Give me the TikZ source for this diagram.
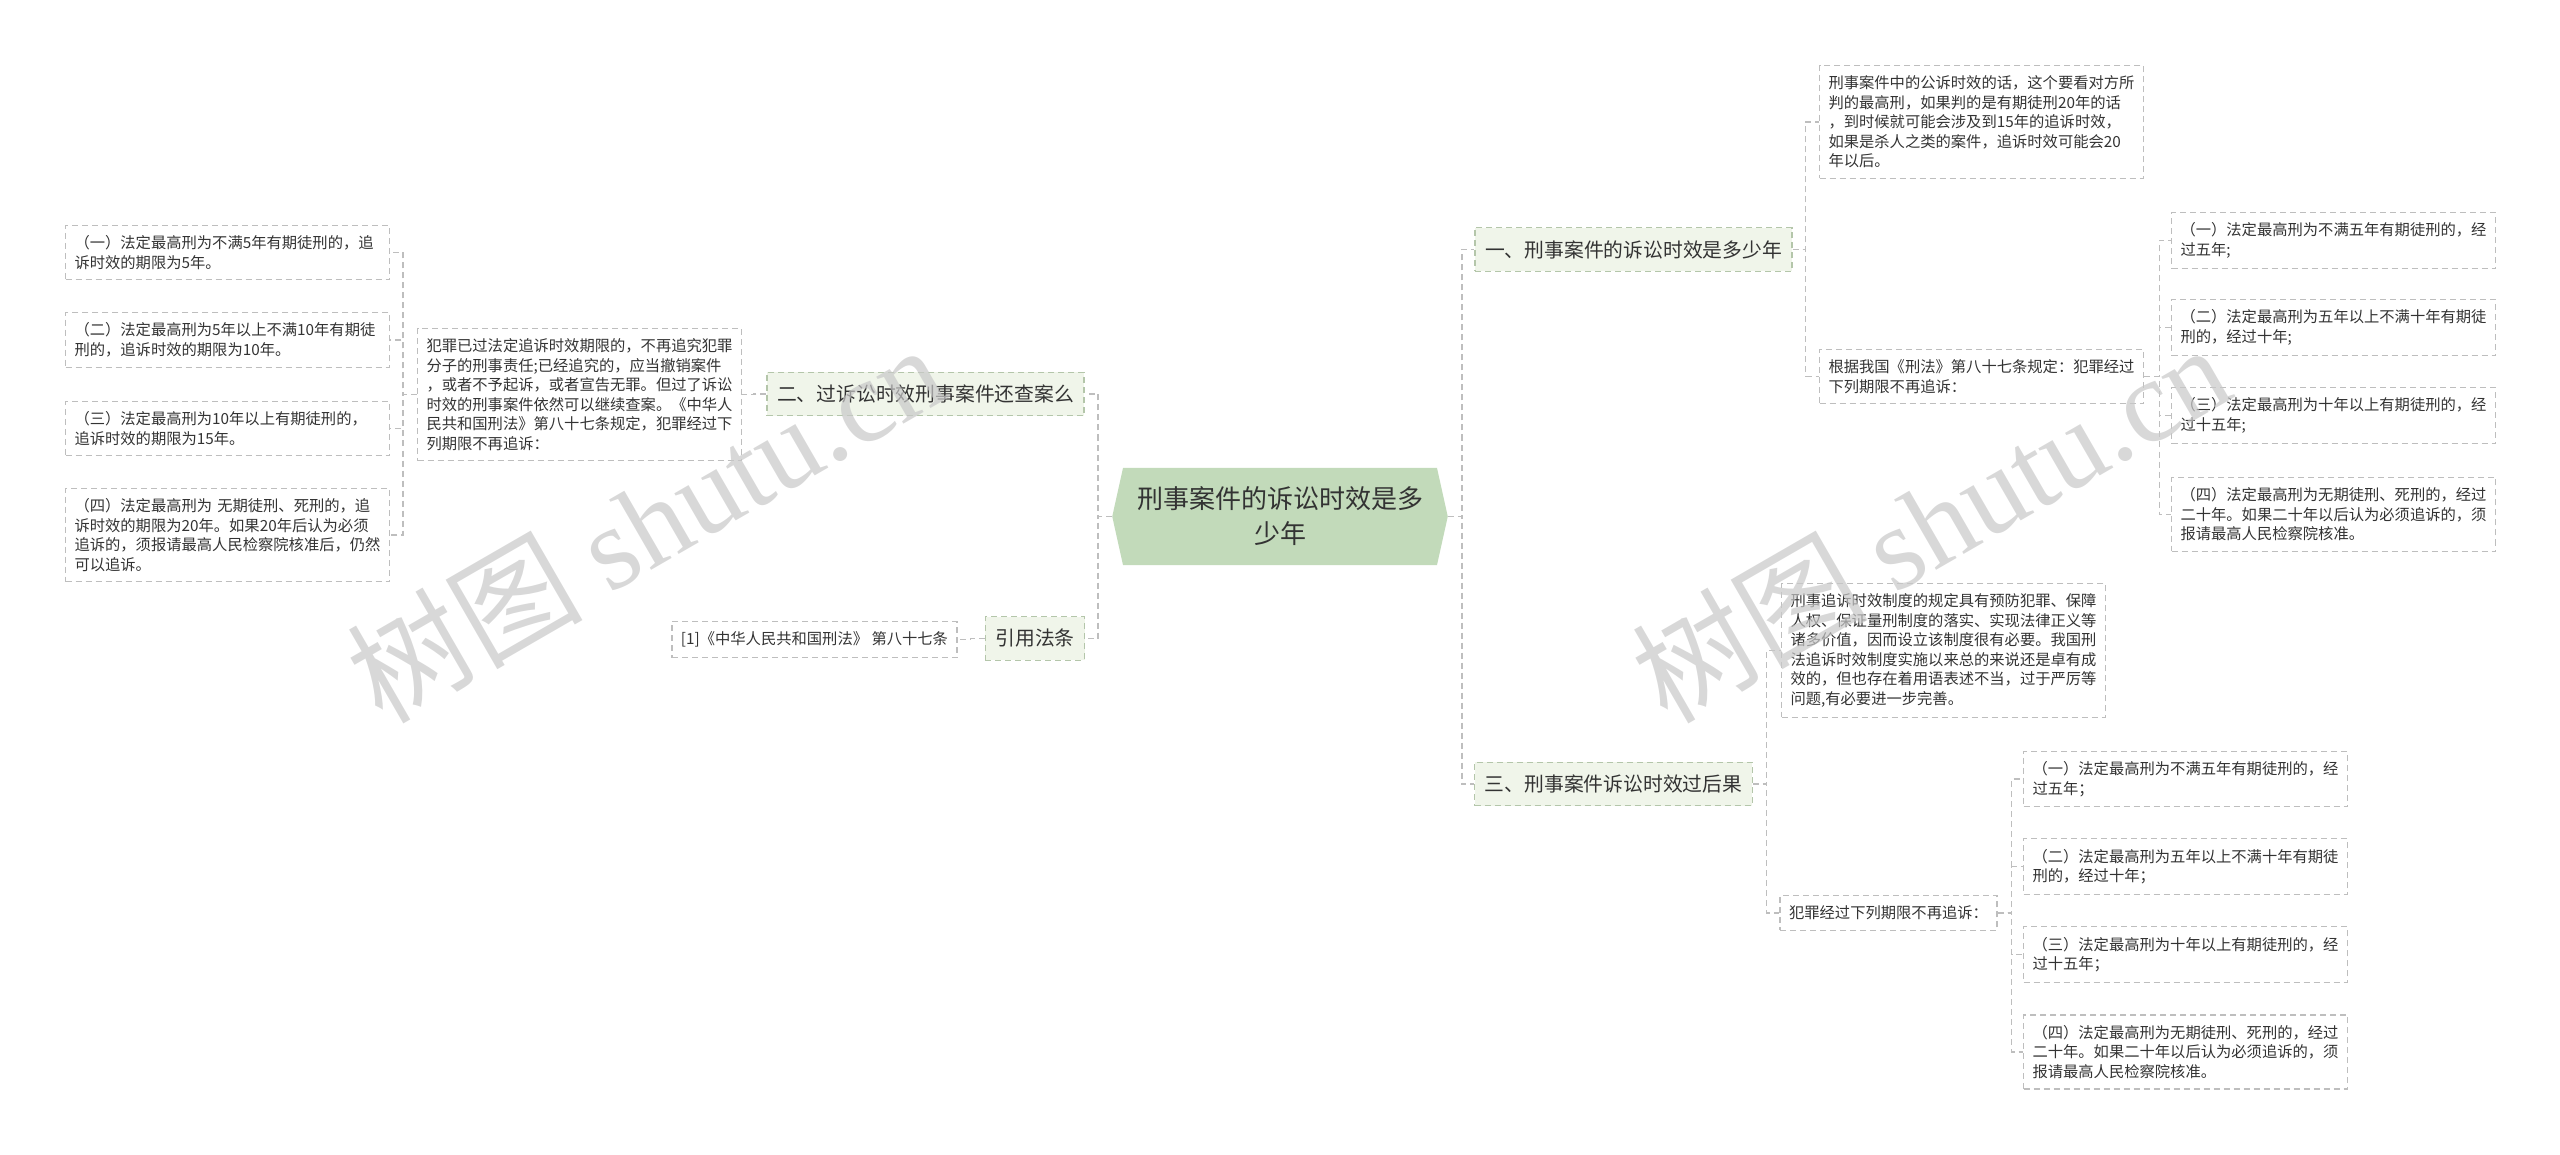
\documentclass[tikz,border=0pt]{standalone}
\usepackage{fontspec}
\setmainfont{Noto Sans CJK SC}
\newfontfamily\wmfont{Liberation Serif}
\usetikzlibrary{shapes.symbols}
\definecolor{textgray}{RGB}{51,51,51}
\definecolor{linegray}{RGB}{190,190,190}
\definecolor{rootgreen}{RGB}{194,218,186}
\definecolor{topicgreen}{RGB}{240,245,234}
\definecolor{topicline}{RGB}{180,198,170}
\definecolor{markgray}{RGB}{200,200,200}

\begin{document}
\begin{tikzpicture}[x=1pt,y=-1pt,
    root/.style={shape=signal,signal to=east and west,signal pointer angle=155,fill=rootgreen,text=textgray,align=center,font=\fontsize{26pt}{35pt}\selectfont,inner xsep=14pt,inner ysep=19pt},
    topic/.style={rectangle,draw=topicline,line width=1.2pt,dash pattern=on 6pt off 4pt,fill=topicgreen,text=textgray,font=\fontsize{19.8pt}{24pt}\selectfont,inner xsep=10pt,inner ysep=12.5pt},
    tag/.style={rectangle,draw=linegray,line width=1.2pt,dash pattern=on 6pt off 4pt,text=textgray,align=left,font=\fontsize{15.3pt}{19.5pt}\selectfont,inner xsep=9pt,inner ysep=10.3pt},
    leaf/.style={tag,text width=306pt},
    link/.style={draw=linegray,line width=1.2pt,dash pattern=on 6pt off 4pt},
    watermark/.style={text=markgray,text opacity=0.7,rotate=30,font=\fontsize{118pt}{120pt}\selectfont}]

    \useasboundingbox (0,0) rectangle (2560,1155);

    \node[root] at (1280,516.5) (root) {刑事案件的诉讼时效是多\\少年};

    % left side
    \node[topic] at (925.5,394) (two) {二、过诉讼时效刑事案件还查案么};
    \node[topic] at (1035,638.5) (cite) {引用法条};

    \node[leaf] at (579.5,394.5) (lost) {犯罪已过法定追诉时效期限的，不再追究犯罪\\分子的刑事责任;已经追究的，应当撤销案件\\，或者不予起诉，或者宣告无罪。但过了诉讼\\时效的刑事案件依然可以继续查案。《中华人\\民共和国刑法》第八十七条规定，犯罪经过下\\列期限不再追诉：};
    \node[leaf] at (227.5,252.5) (lA) {（一）法定最高刑为不满5年有期徒刑的，追\\诉时效的期限为5年。};
    \node[leaf] at (227.5,340) (lB) {（二）法定最高刑为5年以上不满10年有期徒\\刑的，追诉时效的期限为10年。};
    \node[leaf] at (227.5,428.5) (lC) {（三）法定最高刑为10年以上有期徒刑的，\\追诉时效的期限为15年。};
    \node[leaf] at (227.5,535) (lD) {（四）法定最高刑为 无期徒刑、死刑的，追\\诉时效的期限为20年。如果20年后认为必须\\追诉的，须报请最高人民检察院核准后，仍然\\可以追诉。};
    \node[tag] at (814.5,639.5) (law) {[1]《中华人民共和国刑法》 第八十七条};

    % right side
    \node[topic] at (1633.5,249.5) (one) {一、刑事案件的诉讼时效是多少年};
    \node[topic] at (1613.5,784) (three) {三、刑事案件诉讼时效过后果};

    \node[leaf] at (1981.5,122) (gongsu) {刑事案件中的公诉时效的话，这个要看对方所\\判的最高刑，如果判的是有期徒刑20年的话\\，到时候就可能会涉及到15年的追诉时效，\\如果是杀人之类的案件，追诉时效可能会20\\年以后。};
    \node[leaf] at (1981.5,376.5) (genju) {根据我国《刑法》第八十七条规定：犯罪经过\\下列期限不再追诉：};
    \node[leaf] at (2333.5,240.5) (rA) {（一）法定最高刑为不满五年有期徒刑的，经\\过五年;};
    \node[leaf] at (2333.5,327.5) (rB) {（二）法定最高刑为五年以上不满十年有期徒\\刑的，经过十年;};
    \node[leaf] at (2333.5,415.5) (rC) {（三）法定最高刑为十年以上有期徒刑的，经\\过十五年;};
    \node[leaf] at (2333.5,514.5) (rD) {（四）法定最高刑为无期徒刑、死刑的，经过\\二十年。如果二十年以后认为必须追诉的，须\\报请最高人民检察院核准。};

    \node[leaf] at (1943.5,650.5) (zhidu) {刑事追诉时效制度的规定具有预防犯罪、保障\\人权、保证量刑制度的落实、实现法律正义等\\诸多价值，因而设立该制度很有必要。我国刑\\法追诉时效制度实施以来总的来说还是卓有成\\效的，但也存在着用语表述不当，过于严厉等\\问题,有必要进一步完善。};
    \node[tag] at (1888.5,913) (fanzui) {犯罪经过下列期限不再追诉：};
    \node[leaf] at (2185.5,779) (bA) {（一）法定最高刑为不满五年有期徒刑的，经\\过五年；};
    \node[leaf] at (2185.5,866.5) (bB) {（二）法定最高刑为五年以上不满十年有期徒\\刑的，经过十年；};
    \node[leaf] at (2185.5,954.5) (bC) {（三）法定最高刑为十年以上有期徒刑的，经\\过十五年；};
    \node[leaf] at (2185.5,1052) (bD) {（四）法定最高刑为无期徒刑、死刑的，经过\\二十年。如果二十年以后认为必须追诉的，须\\报请最高人民检察院核准。};

    % connectors
    \foreach \c in {two,cite}
        \draw[link] (root.west) -- ++(-14,0) |- (\c.east);
    \foreach \c in {one,three}
        \draw[link] (root.east) -- ++(14,0) |- (\c.west);
    \draw[link] (two.west) -- ++(-12.5,0) |- (lost.east);
    \foreach \c in {lA,lB,lC,lD}
        \draw[link] (lost.west) -- ++(-14,0) |- (\c.east);
    \draw[link] (cite.west) -- ++(-14,0) |- (law.east);
    \foreach \c in {gongsu,genju}
        \draw[link] (one.east) -- ++(13,0) |- (\c.west);
    \foreach \c in {rA,rB,rC,rD}
        \draw[link] (genju.east) -- ++(15,0) |- (\c.west);
    \foreach \c in {zhidu,fanzui}
        \draw[link] (three.east) -- ++(14,0) |- (\c.west);
    \foreach \c in {bA,bB,bC,bD}
        \draw[link] (fanzui.east) -- ++(14,0) |- (\c.west);

    % watermarks
    \node[watermark] at (645,522) (markL) {树图 {\wmfont shutu.cn}};
    \node[watermark] at (1930,522) (markR) {树图 {\wmfont shutu.cn}};
\end{tikzpicture}
\end{document}
